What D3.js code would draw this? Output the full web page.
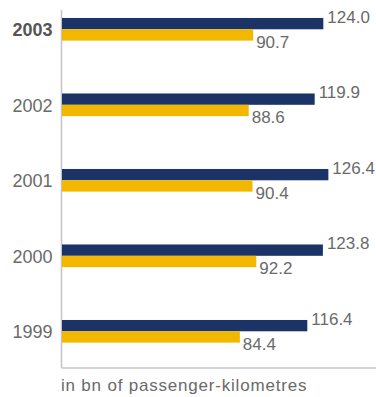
<!DOCTYPE html>
<html>
<head>
<meta charset="utf-8">
<script src="https://cdn.jsdelivr.net/npm/d3@7"></script>
<style>
  html, body { margin: 0; padding: 0; background: #fff; }
  svg { display: block; }
  text { font-family: "Liberation Sans", Arial, Helvetica, sans-serif; }
</style>
</head>
<body>
<svg id="chart" width="376" height="397"></svg>
<script>
// Passenger traffic by year, in billions of passenger-kilometres
const years = ["2003", "2002", "2001", "2000", "1999"];
const seriesNames = ["first", "second"];
const firstValues = [124.0, 119.9, 126.4, 123.8, 116.4];
const secondValues = [90.7, 88.6, 90.4, 92.2, 84.4];
const unitNote = "in bn of passenger-kilometres";
const boldYear = "2003";

const colors = { first: "#1b3366", second: "#f2b800" };
const textColor = "#6a6a6a";

const W = 376, H = 397;
const axisX = 61.5;        // vertical axis position
const axisTop = 10;
const axisBottom = 368;

const svg = d3.select("#chart");

const rows = years.map((y, i) => ({
  year: y,
  values: [
    { key: "first", value: firstValues[i] },
    { key: "second", value: secondValues[i] }
  ]
}));

const x = d3.scaleLinear().domain([0, 149]).range([62, W]);

const y = d3.scaleBand()
  .domain(years)
  .range([-7.4, axisBottom])
  .paddingInner(0.70)
  .paddingOuter(0.336);

const ySub = d3.scaleBand()
  .domain(seriesNames)
  .range([0, y.bandwidth()]);

// axis lines
svg.append("line")
  .attr("x1", axisX).attr("x2", axisX)
  .attr("y1", axisTop).attr("y2", axisBottom)
  .attr("stroke", "#c4c4c4").attr("stroke-width", 1.5);
svg.append("line")
  .attr("x1", axisX).attr("x2", W)
  .attr("y1", axisBottom).attr("y2", axisBottom)
  .attr("stroke", "#c4c4c4").attr("stroke-width", 1.5);

const groups = svg.selectAll("g.year")
  .data(rows)
  .join("g")
  .attr("class", "year")
  .attr("transform", d => `translate(0,${y(d.year)})`);

groups.selectAll("rect")
  .data(d => d.values)
  .join("rect")
  .attr("x", x(0))
  .attr("y", d => ySub(d.key))
  .attr("width", d => x(d.value) - x(0))
  .attr("height", ySub.bandwidth())
  .attr("fill", d => colors[d.key]);

// value labels: first series above its bar, second series below its bar
groups.selectAll("text.value")
  .data(d => d.values)
  .join("text")
  .attr("class", "value")
  .attr("x", d => x(d.value) + (d.key === "first" ? 4 : 3))
  .attr("y", d => d.key === "first"
    ? ySub(d.key) + 5
    : ySub(d.key) + ySub.bandwidth() + 7)
  .attr("font-size", 17)
  .attr("fill", textColor)
  .text(d => d.value.toFixed(1));

// year labels
groups.append("text")
  .attr("x", 52.5)
  .attr("y", y.bandwidth() / 2 + 7)
  .attr("text-anchor", "end")
  .attr("font-size", 18)
  .attr("font-weight", d => d.year === boldYear ? "bold" : "normal")
  .attr("fill", d => d.year === boldYear ? "#555" : textColor)
  .text(d => d.year);

// unit note
svg.append("text")
  .attr("x", 61)
  .attr("y", 391)
  .attr("font-size", 17)
  .attr("letter-spacing", 0.8)
  .attr("fill", textColor)
  .text(unitNote);
</script>
</body>
</html>
